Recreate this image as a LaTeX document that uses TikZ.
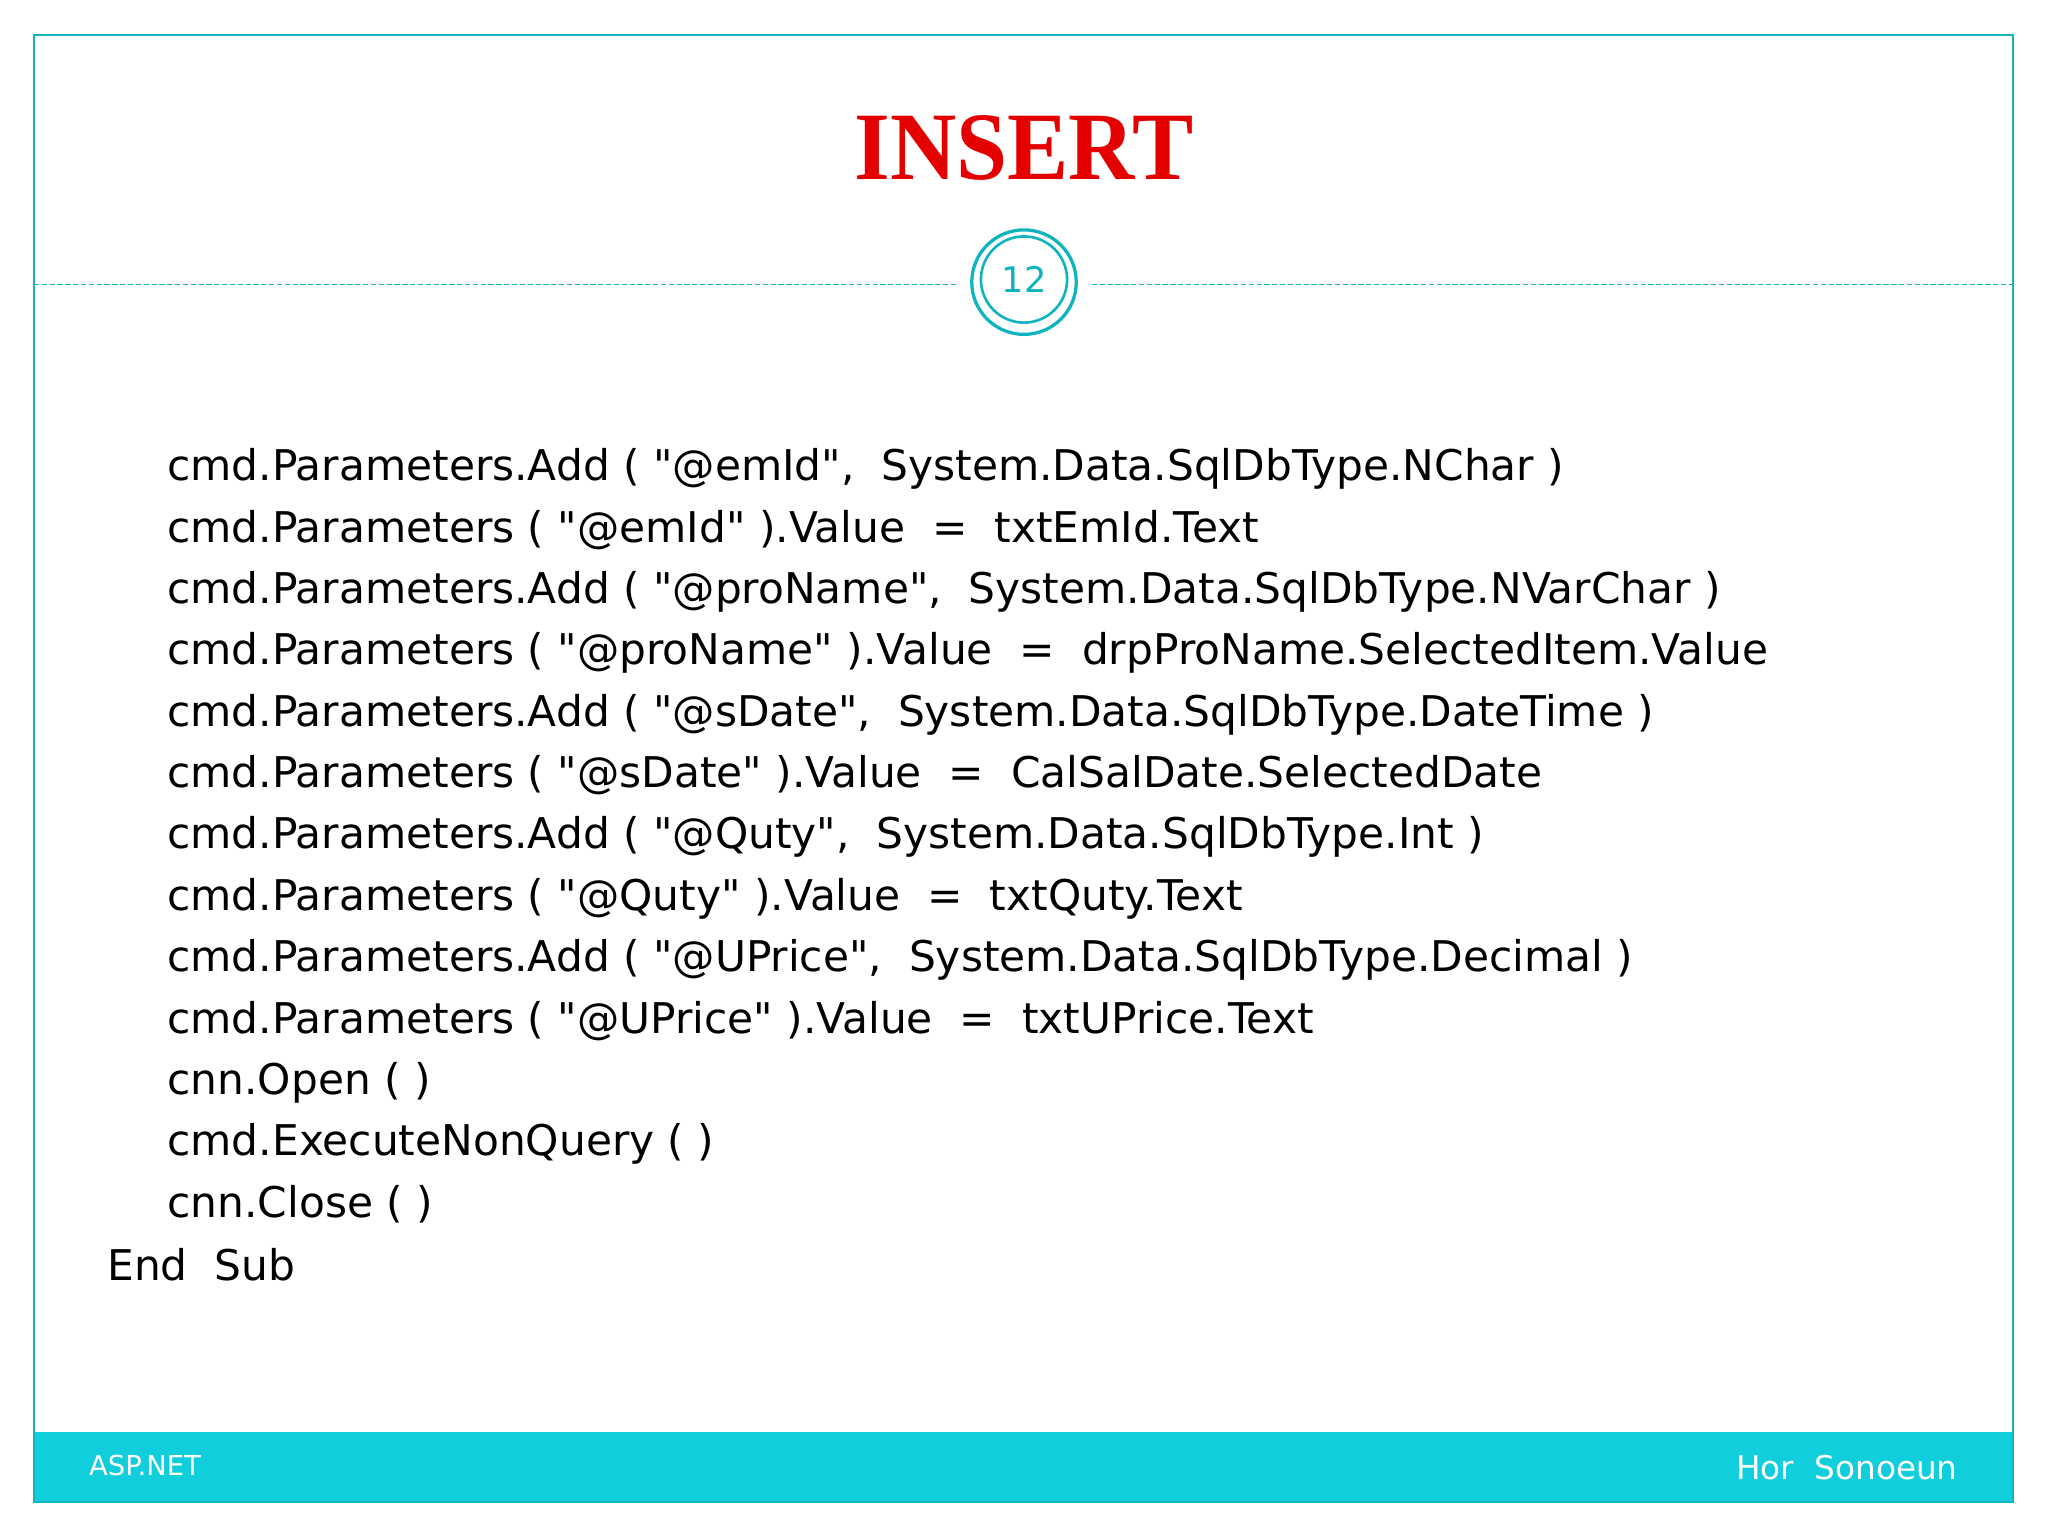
\documentclass[tikz,border=0pt]{standalone}
\usepackage{fontspec}
\setmainfont{Liberation Serif}
\newfontfamily\codefont{DejaVu Sans}
\definecolor{teal1}{RGB}{16,180,190}
\definecolor{bar}{RGB}{16,206,220}
\newcommand{\qq}{\symbol{34}}
\begin{document}
\begin{tikzpicture}[x=1pt,y=-1pt,
 code/.style={anchor=base west,inner sep=0,font=\codefont\fontsize{32.4}{40}\selectfont}]
\useasboundingbox (0,0) rectangle (1568,1176);
\fill[white] (0,0) rectangle (1568,1176);
\fill[bar] (26,1096) rectangle (1541,1150);
\draw[teal1,line width=1.5] (26,27) rectangle (1541,1150);
\draw[teal1,dash pattern=on 4pt off 2pt,line width=1] (26,218) -- (732,218);
\draw[teal1,dash pattern=on 4pt off 2pt,line width=1] (836,218) -- (1541,218);
\node[circle,draw=teal1,line width=2.5,minimum size=80,inner sep=0] (c) at (784,216) {};
\node[circle,draw=teal1,line width=2,minimum size=66,inner sep=0,font=\codefont\fontsize{27}{30}\selectfont,text=teal1] at (784,214) {12};
\node[font=\bfseries\fontsize{74}{84}\selectfont,text=red!90!black,xscale=0.95] (t) at (784,113) {INSERT};
\foreach \i/\s in {0/{cmd.Parameters.Add ( \qq@emId\qq,\ \ System.Data.SqlDbType.NChar )},
1/{cmd.Parameters ( \qq@emId\qq\ ).Value \ = \ txtEmId.Text},
2/{cmd.Parameters.Add ( \qq@proName\qq,\ \ System.Data.SqlDbType.NVarChar )},
3/{cmd.Parameters ( \qq@proName\qq\ ).Value \ = \ drpProName.SelectedItem.Value},
4/{cmd.Parameters.Add ( \qq@sDate\qq,\ \ System.Data.SqlDbType.DateTime )},
5/{cmd.Parameters ( \qq@sDate\qq\ ).Value \ = \ CalSalDate.SelectedDate},
6/{cmd.Parameters.Add ( \qq@Quty\qq,\ \ System.Data.SqlDbType.Int )},
7/{cmd.Parameters ( \qq@Quty\qq\ ).Value \ = \ txtQuty.Text},
8/{cmd.Parameters.Add ( \qq@UPrice\qq,\ \ System.Data.SqlDbType.Decimal )},
9/{cmd.Parameters ( \qq@UPrice\qq\ ).Value \ = \ txtUPrice.Text},
10/{cnn.Open ( )},
11/{cmd.ExecuteNonQuery ( )},
12/{cnn.Close ( )}}
 \node[code] (l\i) at (128,{368+47*\i}) {\s};
\node[code] (es) at (82,980) {End\ \ Sub};
\node[anchor=base west,inner sep=0,text=white,font=\codefont\fontsize{21}{24}\selectfont] (a) at (68,1130) {ASP.NET};
\node[anchor=base east,inner sep=0,text=white,font=\codefont\fontsize{25}{28}\selectfont] (h) at (1499,1133) {Hor\ \ Sonoeun};
\end{tikzpicture}
\end{document}
